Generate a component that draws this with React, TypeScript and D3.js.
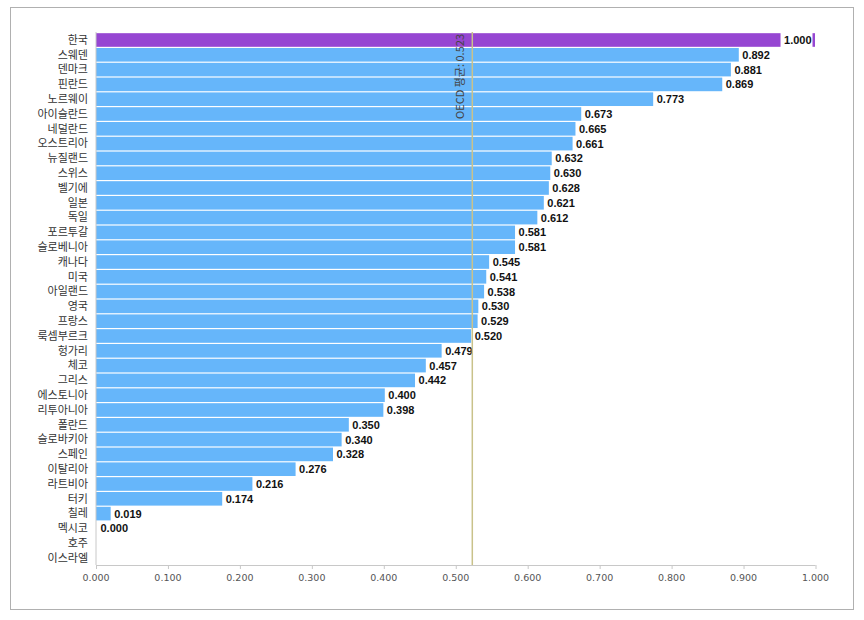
import React from "react";
import * as d3 from "d3";

const categories = [
  "한국", "스웨덴", "덴마크", "핀란드", "노르웨이", "아이슬란드", "네덜란드", "오스트리아",
  "뉴질랜드", "스위스", "벨기에", "일본", "독일", "포르투갈", "슬로베니아", "캐나다", "미국",
  "아일랜드", "영국", "프랑스", "룩셈부르크", "헝가리", "체코", "그리스", "에스토니아",
  "리투아니아", "폴란드", "슬로바키아", "스페인", "이탈리아", "라트비아", "터키", "칠레",
  "멕시코", "호주", "이스라엘",
];

const values: (number | null)[] = [
  1.0, 0.892, 0.881, 0.869, 0.773, 0.673, 0.665, 0.661, 0.632, 0.63, 0.628, 0.621, 0.612,
  0.581, 0.581, 0.545, 0.541, 0.538, 0.53, 0.529, 0.52, 0.479, 0.457, 0.442, 0.4, 0.398,
  0.35, 0.34, 0.328, 0.276, 0.216, 0.174, 0.019, 0.0, null, null,
];

const highlight = "한국";
const truncatedBarEnd = 0.95; // Korea's bar is drawn broken before the axis end
const oecdAverage = 0.523;
const oecdLabel = "OECD 평균: 0.523";
const xTicks = [0, 0.1, 0.2, 0.3, 0.4, 0.5, 0.6, 0.7, 0.8, 0.9, 1.0];

export default function App() {
  const W = 864, H = 620;
  const x = d3.scaleLinear().domain([0, 1]).range([96, 815.5]);
  const y = d3.scaleBand<string>().domain(categories).range([32.6, 565.4]).paddingInner(0.08).paddingOuter(0.04);
  const axisY = 565;
  const blue = "#66b6fa";
  const purple = "#9646d2";
  const labelFont = "'Noto Sans CJK KR', 'Noto Sans', sans-serif";
  const numFont = "'Liberation Sans', Arial, sans-serif";

  return (
    <svg width={W} height={H} style={{ position: "absolute", left: 0, top: 0 }}>
      <rect x={0} y={0} width={W} height={H} fill="#fff" />
      <rect x={10.5} y={7.5} width={843} height={602} fill="none" stroke="#b0b0b0" strokeWidth={1} />
      {categories.map((c, i) => {
        const v = values[i];
        const yy = y(c)!;
        const bh = y.bandwidth();
        const cy = yy + bh / 2;
        const isHi = c === highlight;
        const barEnd = v == null ? null : isHi ? Math.min(v, truncatedBarEnd) : v;
        return (
          <g key={c}>
            <text x={88} y={cy} dy="0.35em" textAnchor="end" fontFamily={labelFont} fontSize={11} fill="#333">
              {c}
            </text>
            {barEnd != null && barEnd > 0 && (
              <rect x={x(0)} y={yy} width={x(barEnd) - x(0) + 1} height={bh} fill={isHi ? purple : blue} />
            )}
            {isHi && v != null && (
              <rect x={x(v) - 3} y={yy} width={2.5} height={bh} fill={purple} />
            )}
            {v != null && (
              <text x={x(barEnd!) + 4.5} y={cy} dy="0.36em" fontFamily={numFont} fontWeight="bold" fontSize={11} fill="#111">
                {d3.format(".3f")(v)}
              </text>
            )}
          </g>
        );
      })}
      {/* axes */}
      <line x1={x(0)} x2={x(0)} y1={32} y2={axisY} stroke="#c8c8c8" />
      <line x1={x(0)} x2={x(1)} y1={axisY + 0.5} y2={axisY + 0.5} stroke="#c8c8c8" />
      {xTicks.map((t) => (
        <g key={t}>
          <line x1={x(t) + 0.5} x2={x(t) + 0.5} y1={axisY} y2={axisY + 4} stroke="#c8c8c8" />
          <text x={x(t)} y={axisY + 16} textAnchor="middle" fontFamily={"'DejaVu Sans', sans-serif"} fontSize={9.5} fill="#555">
            {d3.format(".3f")(t)}
          </text>
        </g>
      ))}
      {/* OECD average line */}
      <line x1={x(oecdAverage)} x2={x(oecdAverage)} y1={32} y2={axisY} stroke="#c9c28a" strokeWidth={1.5} />
      <text
        transform={`translate(${x(oecdAverage) - 12},${34}) rotate(-90)`}
        textAnchor="end"
        dy="0.35em"
        fontFamily={labelFont}
        fontSize={11}
        fill="#444"
      >
        {oecdLabel}
      </text>
    </svg>
  );
}
